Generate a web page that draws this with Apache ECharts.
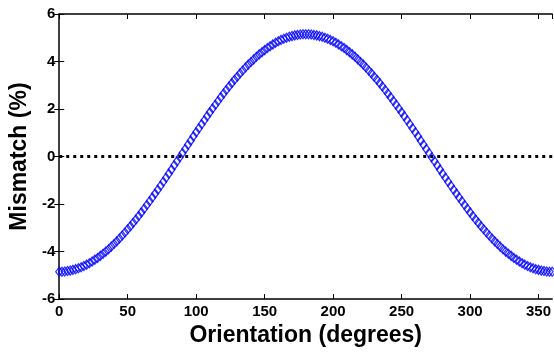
<!DOCTYPE html>
<html>
<head>
<meta charset="utf-8">
<script src="https://cdn.jsdelivr.net/npm/echarts@6/dist/echarts.min.js"></script>
<style>
  html, body { margin: 0; padding: 0; background: #fff; }
  #chart { width: 554px; height: 352px; }
</style>
</head>
<body>
<div id="chart"></div>
<script>
// orientation in degrees
var orientation = [
  0, 2, 4, 6, 8, 10, 12, 14, 16, 18,
  20, 22, 24, 26, 28, 30, 32, 34, 36, 38,
  40, 42, 44, 46, 48, 50, 52, 54, 56, 58,
  60, 62, 64, 66, 68, 70, 72, 74, 76, 78,
  80, 82, 84, 86, 88, 90, 92, 94, 96, 98,
  100, 102, 104, 106, 108, 110, 112, 114, 116, 118,
  120, 122, 124, 126, 128, 130, 132, 134, 136, 138,
  140, 142, 144, 146, 148, 150, 152, 154, 156, 158,
  160, 162, 164, 166, 168, 170, 172, 174, 176, 178,
  180,
  182, 184, 186, 188, 190, 192, 194, 196, 198, 200,
  202, 204, 206, 208, 210, 212, 214, 216, 218, 220,
  222, 224, 226, 228, 230, 232, 234, 236, 238, 240,
  242, 244, 246, 248, 250, 252, 254, 256, 258, 260,
  262, 264, 266, 268, 270, 272, 274, 276, 278, 280,
  282, 284, 286, 288, 290, 292, 294, 296, 298, 300,
  302, 304, 306, 308, 310, 312, 314, 316, 318, 320,
  322, 324, 326, 328, 330, 332, 334, 336, 338, 340,
  342, 344, 346, 348, 350, 352, 354, 356, 358, 360
]
// mismatch in percent
var mismatch = [
  -4.85, -4.85, -4.84, -4.82, -4.80, -4.77, -4.74, -4.70, -4.66, -4.61,
  -4.55, -4.49, -4.42, -4.34, -4.27, -4.18, -4.09, -4.00, -3.90, -3.79,
  -3.68, -3.57, -3.45, -3.32, -3.20, -3.06, -2.93, -2.79, -2.65, -2.50,
  -2.35, -2.20, -2.04, -1.88, -1.72, -1.56, -1.40, -1.23, -1.06, -0.89,
  -0.72, -0.55, -0.37, -0.20, -0.03, 0.15, 0.32, 0.50, 0.67, 0.85,
  1.02, 1.19, 1.36, 1.53, 1.70, 1.86, 2.02, 2.18, 2.34, 2.50,
  2.65, 2.80, 2.95, 3.09, 3.23, 3.36, 3.50, 3.62, 3.75, 3.87,
  3.98, 4.09, 4.20, 4.30, 4.39, 4.48, 4.57, 4.64, 4.72, 4.79,
  4.85, 4.91, 4.96, 5.00, 5.04, 5.07, 5.10, 5.12, 5.14, 5.15,
  5.15,
  5.15, 5.14, 5.12, 5.10, 5.07, 5.04, 5.00, 4.96, 4.91, 4.85,
  4.79, 4.72, 4.64, 4.57, 4.48, 4.39, 4.30, 4.20, 4.09, 3.98,
  3.87, 3.75, 3.62, 3.50, 3.36, 3.23, 3.09, 2.95, 2.80, 2.65,
  2.50, 2.34, 2.18, 2.02, 1.86, 1.70, 1.53, 1.36, 1.19, 1.02,
  0.85, 0.67, 0.50, 0.32, 0.15, -0.03, -0.20, -0.37, -0.55, -0.72,
  -0.89, -1.06, -1.23, -1.40, -1.56, -1.72, -1.88, -2.04, -2.20, -2.35,
  -2.50, -2.65, -2.79, -2.93, -3.06, -3.20, -3.32, -3.45, -3.57, -3.68,
  -3.79, -3.90, -4.00, -4.09, -4.18, -4.27, -4.34, -4.42, -4.49, -4.55,
  -4.61, -4.66, -4.70, -4.74, -4.77, -4.80, -4.82, -4.84, -4.85, -4.85
]
// dotted reference line at zero
var zeroX = [0, 360]
var zeroY = [0, 0]

var xTicks = [0, 50, 100, 150, 200, 250, 300, 350]
var yTicks = [-6, -4, -2, 0, 2, 4, 6]

var font = 'Liberation Sans, Arial, Helvetica, sans-serif'

function pairs(xs, ys) {
  return xs.map(function (x, i) { return [x, ys[i]] })
}

var axisLine = { show: true, onZero: false, lineStyle: { color: '#000', width: 1.5 } }
var axisTick = { show: true, inside: true, length: 5, lineStyle: { color: '#000', width: 1 } }

var chart = echarts.init(document.getElementById('chart'), null, { renderer: 'canvas' })
chart.setOption({
  animation: false,
  backgroundColor: '#fff',
  grid: { left: 58, top: 14, width: 496, bottom: 46 },
  xAxis: [
    {
      type: 'value', min: xTicks[0], max: 360, interval: 50,
      position: 'bottom',
      axisLine: axisLine, axisTick: axisTick, splitLine: { show: false },
      axisLabel: { color: '#000', fontFamily: font, fontWeight: 'bold', fontSize: 15, margin: 5 },
      name: 'Orientation (degrees)', nameLocation: 'middle', nameGap: 17,
      nameTextStyle: { color: '#000', fontFamily: font, fontWeight: 'bold', fontSize: 23 }
    },
    {
      type: 'value', min: xTicks[0], max: 360, interval: 50,
      position: 'top',
      axisLine: axisLine, axisTick: axisTick, splitLine: { show: false },
      axisLabel: { show: false }
    }
  ],
  yAxis: [
    {
      type: 'value', min: yTicks[0], max: yTicks[yTicks.length - 1], interval: 2,
      position: 'left',
      axisLine: axisLine, axisTick: axisTick, splitLine: { show: false },
      axisLabel: { color: '#000', fontFamily: font, fontWeight: 'bold', fontSize: 15, margin: 4 },
      name: 'Mismatch (%)', nameLocation: 'middle', nameGap: 23,
      nameTextStyle: { color: '#000', fontFamily: font, fontWeight: 'bold', fontSize: 23 }
    },
    {
      // right edge of the box falls just outside the picture, only ticks show
      type: 'value', min: yTicks[0], max: yTicks[yTicks.length - 1], interval: 2,
      position: 'right',
      axisLine: { show: false }, axisTick: axisTick, splitLine: { show: false },
      axisLabel: { show: false }
    }
  ],
  series: [
    {
      name: 'zero',
      type: 'line',
      data: pairs(zeroX, zeroY),
      symbol: 'none',
      lineStyle: { color: '#000', width: 3, type: [3, 4] },
      z: 1
    },
    {
      name: 'mismatch',
      type: 'scatter',
      data: pairs(orientation, mismatch),
      symbol: 'diamond',
      symbolSize: [7, 9],
      itemStyle: { color: 'rgba(0,0,0,0)', borderColor: '#0000ff', borderWidth: 1.3 },
      z: 2
    }
  ]
})
</script>
</body>
</html>
